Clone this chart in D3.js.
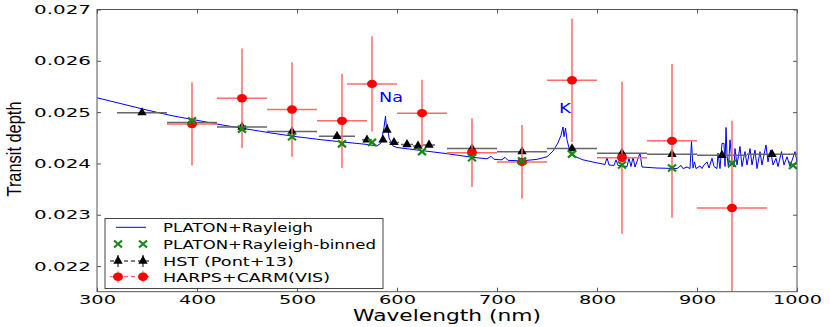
<!DOCTYPE html>
<html>
<head>
<meta charset="utf-8">
<title>Transit depth</title>
<script src="https://d3js.org/d3.v7.min.js"></script>
<style>
  body { margin: 0; background: #fff; }
  svg { display: block; }
  .tick text { font-family: "DejaVu Sans", sans-serif; font-size: 12.5px; fill: #000; }
  .tick line { stroke: #555; }
</style>
</head>
<body>
<svg id="chart" width="830" height="327"></svg>
<script>
// model spectrum (wavelength nm, transit depth)
const modelSpectrum = [
  [300,0.02528],[325,0.02516],[350,0.02504],[375,0.02493],[400,0.02484],[425,0.02475],
  [450,0.02467],[475,0.02459],[500,0.02452],[525,0.02446],[550,0.02441],[570,0.02437],
  [580,0.02434],[584,0.02440],[587,0.02470],[588.5,0.02492],[589.5,0.02468],[590.5,0.02476],
  [592,0.02450],[596,0.02434],[600,0.02431],[625,0.02425],[650,0.02419],[675,0.02412],
  [690,0.02409],[694,0.02414],[697,0.02408],[705,0.02407],[708,0.02412],[711,0.02406],
  [725,0.02405],[740,0.02408],[750,0.02413],[756,0.02424],[761,0.02440],[764,0.02455],
  [766,0.02471],[767,0.02452],[768.5,0.02469],[770,0.02446],[772,0.02430],[776,0.02415],
  [786,0.02407],[800,0.02401],[808,0.02398],[810,0.02411],[812,0.02397],[817,0.02396],
  [819,0.02407],[821,0.02396],[830,0.02394],[832,0.02410],[834,0.02394],[836,0.02412],
  [838,0.02393],[843,0.02420],[845,0.02393],[860,0.02391],[880,0.02390],[884,0.02396],
  [886,0.02390],[890,0.02393],[893,0.02390],[894.5,0.02443],[896,0.02391],[897.5,0.02403],
  [899,0.02390],[903,0.02395],[905,0.02390],[907,0.02397],[910,0.02403],[912,0.02391],
  [915,0.02410],[917,0.02394],[920,0.02390],[921,0.02420],[923,0.02390],[925,0.02439],
  [927,0.02439],[928,0.02394],[929,0.02470],[930,0.02416],[931.5,0.02392],[933,0.02446],
  [935,0.02403],[937,0.02393],[938,0.02429],[940,0.02397],[943,0.02433],[945,0.02394],
  [948,0.02423],[950,0.02397],[953,0.02429],[955,0.02397],[958,0.02426],[960,0.02390],
  [963,0.02423],[965,0.02397],[969,0.02436],[971,0.02403],[973.5,0.02426],[976,0.02397],
  [979,0.02410],[981,0.02394],[984.5,0.02423],[987,0.02397],[990,0.02413],[993,0.02394],
  [998,0.02423],[1000,0.02403]
];

// binned model
const binnedWl    = [395, 445, 495, 545, 575, 625, 675, 725, 775, 825, 875, 935, 996];
const binnedDepth = [0.02483, 0.02467, 0.02452, 0.02438, 0.02441, 0.02423, 0.02411,
                     0.02405, 0.02418, 0.02397, 0.02391, 0.02400, 0.02396];

// HST (Pont+13)
const hstWl    = [345, 395, 445, 495, 540, 570, 586, 590, 597, 610, 621, 632, 675, 725, 775, 825, 875, 925, 975];
const hstDepth = [0.02499, 0.02480, 0.02471, 0.02462, 0.02453, 0.02446, 0.02446, 0.02465, 0.02441,
                  0.02437, 0.02434, 0.02436, 0.02429, 0.02423, 0.02429, 0.02420, 0.02418, 0.02416, 0.02418];
const hstHalfBin = [25, 25, 25, 25, 18, 5, 2, 2, 5, 6, 5, 6, 25, 25, 25, 25, 25, 25, 25];
const hstErr   = 0.00004;

// HARPS + CARMENES (VIS)
const harpsWl    = [395, 445, 495, 545, 575, 625, 675, 725, 775, 825, 875, 935];
const harpsDepth = [0.02477, 0.02527, 0.02505, 0.02483, 0.02555, 0.02498, 0.02421,
                    0.02403, 0.02562, 0.02411, 0.02444, 0.02313];
const harpsErr   = [0.00081, 0.00097, 0.00092, 0.00092, 0.00093, 0.00065, 0.00067,
                    0.00072, 0.00120, 0.00148, 0.00150, 0.00170];
const harpsHalfBin = [25, 25, 25, 25, 25, 25, 25, 25, 25, 25, 25, 35];

const xTicks = [300, 400, 500, 600, 700, 800, 900, 1000];
const yTicks = [0.022, 0.023, 0.024, 0.025, 0.026, 0.027];

const legendLabels = ["PLATON+Rayleigh", "PLATON+Rayleigh-binned", "HST (Pont+13)", "HARPS+CARM(VIS)"];

const svg = d3.select("#chart");
const plotLeft = 97, plotRight = 797, plotTop = 9.5, plotBottom = 291.7;

const x = d3.scaleLinear().domain([300, 1000]).range([plotLeft, plotRight]);
const y = d3.scaleLinear().domain([0.0215, 0.027]).range([plotBottom, plotTop]);

// the original font is much wider than anything installed, so stretch text to the measured widths
function stretch(sel, len) {
  sel.attr("textLength", len).attr("lengthAdjust", "spacingAndGlyphs");
}

svg.append("defs").append("clipPath").attr("id", "plotclip")
  .append("rect").attr("x", plotLeft).attr("y", plotTop)
  .attr("width", plotRight - plotLeft).attr("height", plotBottom - plotTop);

// axes (ticks inside)
const gx = svg.append("g").attr("transform", `translate(0,${plotBottom})`)
  .call(d3.axisBottom(x).tickValues(xTicks).tickSize(-4).tickPadding(3).tickFormat(d3.format("d")));
gx.selectAll("text").each(function(d) { stretch(d3.select(this), d >= 1000 ? 49 : 37); });

const gy = svg.append("g").attr("transform", `translate(${plotLeft},0)`)
  .call(d3.axisLeft(y).tickValues(yTicks).tickSize(-4).tickPadding(6).tickFormat(d3.format(".3f")));
gy.selectAll("text").call(stretch, 57);

svg.append("g").attr("transform", `translate(0,${plotTop})`)
  .call(d3.axisTop(x).tickValues(xTicks).tickSize(-4).tickFormat(""));
svg.append("g").attr("transform", `translate(${plotRight},0)`)
  .call(d3.axisRight(y).tickValues(yTicks).tickSize(-4).tickFormat(""));

svg.selectAll(".domain").remove();

const plot = svg.append("g").attr("clip-path", "url(#plotclip)");

// model line
plot.append("path")
  .datum(modelSpectrum)
  .attr("fill", "none")
  .attr("stroke", "#0000ff")
  .attr("stroke-width", 1)
  .attr("d", d3.line().x(d => x(d[0])).y(d => y(d[1])));

// HST
const hst = hstWl.map((w, i) => ({ w, v: hstDepth[i], h: hstHalfBin[i] }));
plot.selectAll("line.hst-h").data(hst).enter().append("line")
  .attr("x1", d => x(d.w - d.h)).attr("x2", d => x(d.w + d.h))
  .attr("y1", d => y(d.v)).attr("y2", d => y(d.v))
  .attr("stroke", "#666").attr("stroke-width", 1.5);
plot.selectAll("line.hst-v").data(hst).enter().append("line")
  .attr("x1", d => x(d.w)).attr("x2", d => x(d.w))
  .attr("y1", d => y(d.v - hstErr)).attr("y2", d => y(d.v + hstErr))
  .attr("stroke", "#000").attr("stroke-width", 1);
plot.selectAll("path.tri").data(hst).enter().append("path")
  .attr("d", d3.symbol(d3.symbolTriangle, 38))
  .attr("transform", d => `translate(${x(d.w)},${y(d.v)})`)
  .attr("fill", "#000");

// HARPS+CARM
const harps = harpsWl.map((w, i) => ({ w, v: harpsDepth[i], e: harpsErr[i], h: harpsHalfBin[i] }));
plot.selectAll("line.hp-h").data(harps).enter().append("line")
  .attr("x1", d => x(d.w - d.h)).attr("x2", d => x(d.w + d.h))
  .attr("y1", d => y(d.v)).attr("y2", d => y(d.v))
  .attr("stroke", "#ff6a6a").attr("stroke-width", 1.5);
plot.selectAll("line.hp-v").data(harps).enter().append("line")
  .attr("x1", d => x(d.w)).attr("x2", d => x(d.w))
  .attr("y1", d => y(d.v - d.e)).attr("y2", d => y(d.v + d.e))
  .attr("stroke", "#ff6a6a").attr("stroke-width", 1.5);
plot.selectAll("ellipse.hp").data(harps).enter().append("ellipse")
  .attr("cx", d => x(d.w)).attr("cy", d => y(d.v))
  .attr("rx", 5).attr("ry", 4.2)
  .attr("fill", "#ff0000");

// binned model crosses
function cross(g, cx, cy) {
  g.append("path")
    .attr("d", `M${cx - 4},${cy - 3.5}L${cx + 4},${cy + 3.5}M${cx - 4},${cy + 3.5}L${cx + 4},${cy - 3.5}`)
    .attr("stroke", "#138a13").attr("stroke-width", 2.2).attr("fill", "none");
}
binnedWl.forEach((w, i) => cross(plot, x(w), y(binnedDepth[i])));

// frame
svg.append("rect")
  .attr("x", plotLeft).attr("y", plotTop).attr("width", plotRight - plotLeft).attr("height", plotBottom - plotTop)
  .attr("fill", "none").attr("stroke", "#555").attr("stroke-width", 1);

// annotations
svg.append("text").attr("x", 379).attr("y", 102)
  .attr("font-family", "DejaVu Sans, sans-serif").attr("font-size", 14).attr("fill", "#0000ff")
  .text("Na").call(stretch, 24);
svg.append("text").attr("x", 559).attr("y", 112.5)
  .attr("font-family", "DejaVu Sans, sans-serif").attr("font-size", 14).attr("fill", "#0000ff")
  .text("K").call(stretch, 12);

// axis titles
svg.append("text").attr("x", 447).attr("y", 321)
  .attr("text-anchor", "middle")
  .attr("font-family", "DejaVu Sans, sans-serif").attr("font-size", 16.5)
  .text("Wavelength (nm)").call(stretch, 188);

svg.append("text").attr("transform", "translate(21,149) rotate(-90)")
  .attr("text-anchor", "middle")
  .attr("font-family", "Liberation Sans Narrow, Liberation Sans, sans-serif").attr("font-size", 20)
  .text("Transit depth").call(stretch, 95);

// legend
const lg = svg.append("g");
lg.append("rect").attr("x", 105).attr("y", 218.5).attr("width", 278).attr("height", 70)
  .attr("fill", "#fff").attr("stroke", "#444").attr("stroke-width", 1);
const rowY = [227.3, 244, 261, 276.7];
const textLen = [150, 213, 131, 167];
const mx = [118, 143];

lg.append("line").attr("x1", 116).attr("x2", 146).attr("y1", rowY[0]).attr("y2", rowY[0])
  .attr("stroke", "#0000ff").attr("stroke-width", 1);

mx.forEach(m => cross(lg, m, rowY[1]));

lg.append("line").attr("x1", 110).attr("x2", 150).attr("y1", rowY[2]).attr("y2", rowY[2])
  .attr("stroke", "#000").attr("stroke-width", 1).attr("stroke-dasharray", "4,3");
mx.forEach(m => {
  lg.append("line").attr("x1", m).attr("x2", m).attr("y1", rowY[2] - 6).attr("y2", rowY[2] + 6)
    .attr("stroke", "#000").attr("stroke-width", 1);
  lg.append("path").attr("d", d3.symbol(d3.symbolTriangle, 38))
    .attr("transform", `translate(${m},${rowY[2]})`).attr("fill", "#000");
});

lg.append("line").attr("x1", 110).attr("x2", 150).attr("y1", rowY[3]).attr("y2", rowY[3])
  .attr("stroke", "#ff4444").attr("stroke-width", 1).attr("stroke-dasharray", "4,3");
mx.forEach(m => {
  lg.append("line").attr("x1", m).attr("x2", m).attr("y1", rowY[3] - 6).attr("y2", rowY[3] + 6)
    .attr("stroke", "#ff6a6a").attr("stroke-width", 1);
  lg.append("ellipse").attr("cx", m).attr("cy", rowY[3]).attr("rx", 5).attr("ry", 4.2)
    .attr("fill", "#ff0000");
});

legendLabels.forEach((t, i) => {
  lg.append("text").attr("x", 163).attr("y", rowY[i] + 5)
    .attr("font-family", "DejaVu Sans, sans-serif").attr("font-size", 13)
    .text(t).call(stretch, textLen[i]);
});
</script>
</body>
</html>
